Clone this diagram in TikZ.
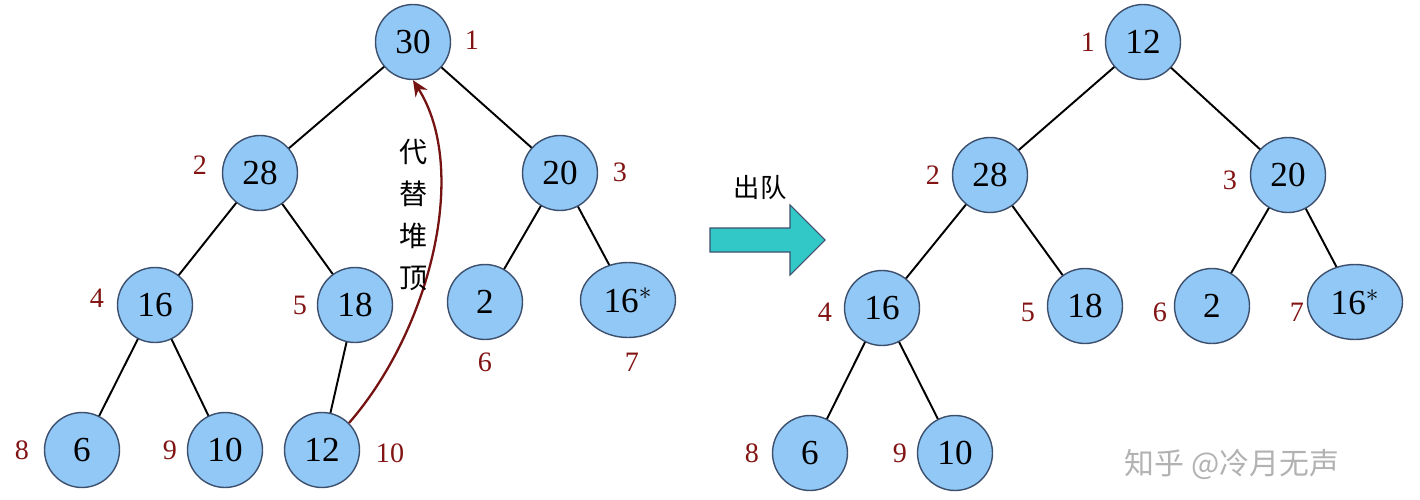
\documentclass[tikz,border=0pt]{standalone}
\usepackage{fontspec}
\setmainfont{Liberation Serif}
\newfontfamily\cjk{Noto Sans CJK SC}
\usetikzlibrary{shapes.geometric,arrows.meta}
\definecolor{nodefill}{RGB}{146,200,246}
\definecolor{nodeline}{RGB}{60,80,110}
\definecolor{lab}{RGB}{130,20,20}
\definecolor{teal}{RGB}{50,200,200}
\begin{document}
\begin{tikzpicture}[x=0.02cm,y=-0.02cm,
  hn/.style={circle,draw=nodeline,line width=0.8pt,fill=nodefill,minimum size=1.5cm,inner sep=0pt,font=\fontsize{20}{22}\selectfont},
  he/.style={ellipse,draw=nodeline,line width=0.8pt,fill=nodefill,minimum width=1.9cm,minimum height=1.5cm,inner sep=0pt,font=\fontsize{20}{22}\selectfont},
  lb/.style={text=lab,font=\fontsize{16}{17}\selectfont},
  ed/.style={line width=1.1pt,black}]
\useasboundingbox (0,0) rectangle (1420,500);
\coordinate (L1) at (413,42); \coordinate (L2) at (260,173); \coordinate (L3) at (560,173);
\coordinate (L4) at (155,305); \coordinate (L5) at (355,305); \coordinate (L6) at (485,302);
\coordinate (L7) at (628,300); \coordinate (L8) at (82,450); \coordinate (L9) at (225,450);
\coordinate (L10) at (322,450);
\draw[ed] (L1)--(L2) (L1)--(L3) (L2)--(L4) (L2)--(L5) (L3)--(L6) (L3)--(L7)
  (L4)--(L8) (L4)--(L9) (L5)--(L10);
\node[hn] (a1) at (L1) {30}; \node[hn] (a2) at (L2) {28}; \node[hn] (a3) at (L3) {20};
\node[hn] (a4) at (L4) {16}; \node[hn] (a5) at (L5) {18}; \node[hn] (a6) at (L6) {2};
\node[he] (a7) at (L7) {16$^{*}$}; \node[hn] (a8) at (L8) {6}; \node[hn] (a9) at (L9) {10};
\node[hn] (a10) at (L10) {12};
\node[lb] at (472,40) {1}; \node[lb] at (200,165) {2}; \node[lb] at (620,172) {3};
\node[lb] at (97,298) {4}; \node[lb] at (300,305) {5}; \node[lb] at (485,362) {6};
\node[lb] at (632,362) {7}; \node[lb] at (22,450) {8}; \node[lb] at (170,450) {9};
\node[lb] at (390,453) {10};
\draw[lab!90!black,line width=1.3pt,-{Stealth[length=9pt,width=8pt]}] (a10.north east) .. controls (430,330) and (470,170) .. (a1.south);
\node[font=\cjk\fontsize{16}{24}\selectfont,align=center] (t) at (414,215) {代\\替\\堆\\顶};
\draw[draw=nodeline,fill=teal,line width=0.6pt] (710,228) -- (790,228) -- (790,205) -- (825,240) -- (790,275) -- (790,252) -- (710,252) -- cycle;
\node[font=\cjk\fontsize{15}{16}\selectfont] (cd) at (760,188) {出队};
\coordinate (R1) at (1143,42); \coordinate (R2) at (990,175); \coordinate (R3) at (1288,175);
\coordinate (R4) at (882,308); \coordinate (R5) at (1085,306); \coordinate (R6) at (1212,306);
\coordinate (R7) at (1355,302); \coordinate (R8) at (810,453); \coordinate (R9) at (955,453);
\draw[ed] (R1)--(R2) (R1)--(R3) (R2)--(R4) (R2)--(R5) (R3)--(R6) (R3)--(R7) (R4)--(R8) (R4)--(R9);
\node[hn] (b1) at (R1) {12}; \node[hn] (b2) at (R2) {28}; \node[hn] (b3) at (R3) {20};
\node[hn] (b4) at (R4) {16}; \node[hn] (b5) at (R5) {18}; \node[hn] (b6) at (R6) {2};
\node[he] (b7) at (R7) {16$^{*}$}; \node[hn] (b8) at (R8) {6}; \node[hn] (b9) at (R9) {10};
\node[lb] at (1088,42) {1}; \node[lb] at (933,175) {2}; \node[lb] at (1230,180) {3};
\node[lb] at (825,312) {4}; \node[lb] at (1028,312) {5}; \node[lb] at (1160,312) {6};
\node[lb] at (1297,312) {7}; \node[lb] at (752,453) {8}; \node[lb] at (900,453) {9};
\node[font=\cjk\fontsize{17}{18}\selectfont,text=black!30] (wm) at (1232,465) {知乎 @冷月无声};
\end{tikzpicture}
\end{document}
